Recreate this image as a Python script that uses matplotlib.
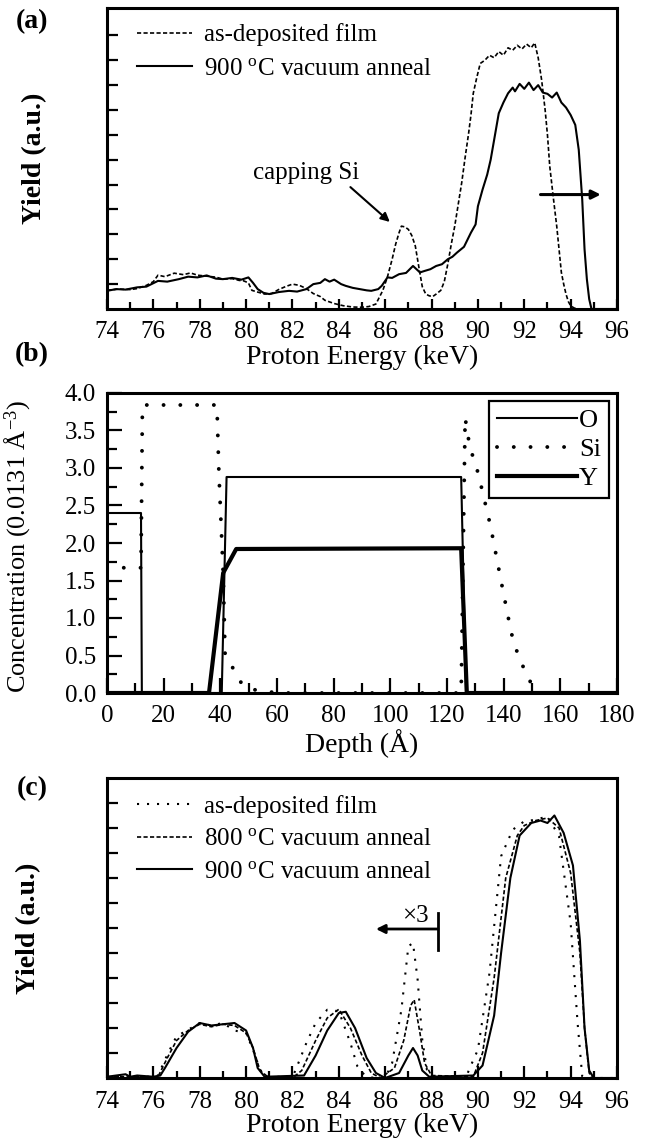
import matplotlib
matplotlib.use('Agg')
import matplotlib.pyplot as plt
from matplotlib.ticker import MultipleLocator, FormatStrFormatter

plt.rcParams['font.family'] = ['Liberation Serif', 'DejaVu Serif']
plt.rcParams['mathtext.fontset'] = 'custom'
plt.rcParams['mathtext.rm'] = 'Liberation Serif'
plt.rcParams['mathtext.it'] = 'Liberation Serif:italic'
plt.rcParams['mathtext.bf'] = 'Liberation Serif:bold'

# ---------------- panel (a) data ----------------
a_asdep_E = [74.0, 74.5, 75.0, 75.3, 75.7, 76.0, 76.2, 76.5, 76.9, 77.3, 77.6, 77.9, 78.3, 78.7, 79.0,
             79.4, 79.7, 79.9, 80.1, 80.25, 80.5, 80.8, 81.1, 81.4, 81.7, 82.0, 82.3, 82.6, 82.9, 83.2,
             83.4, 83.8, 84.2, 84.6, 85.0, 85.3, 85.6, 85.9, 86.1, 86.3, 86.45, 86.6, 86.7, 86.85, 87.0,
             87.15, 87.3, 87.45, 87.6, 87.75, 87.9, 88.05, 88.2, 88.4, 88.55, 88.7, 88.85, 89.0, 89.15,
             89.3, 89.45, 89.6, 89.7, 89.8, 89.95, 90.1, 90.3, 90.5, 90.7, 90.9, 91.1, 91.3, 91.5, 91.7,
             91.9, 92.1, 92.3, 92.45, 92.6, 92.75, 92.9, 93.0, 93.1, 93.25, 93.4, 93.5, 93.6, 93.7, 93.8,
             93.9, 94.0, 94.15, 94.3, 96.0]
a_asdep_Y = [0.75, 0.8, 0.78, 0.82, 0.95, 1.1, 1.36, 1.3, 1.44, 1.38, 1.45, 1.36, 1.32, 1.28, 1.2,
             1.22, 1.15, 1.13, 1.05, 0.75, 0.68, 0.6, 0.62, 0.78, 0.9, 1.0, 0.95, 0.82, 0.62, 0.5,
             0.35, 0.22, 0.13, 0.08, 0.07, 0.1, 0.2, 0.75, 1.3, 2.0, 2.6, 3.07, 3.33, 3.3, 3.2,
             2.95, 2.53, 1.7, 0.9, 0.6, 0.53, 0.5, 0.6, 0.75, 1.1, 1.8, 2.6, 3.33, 4.2,
             5.07, 6.1, 7.07, 7.8, 8.67, 9.3, 9.87, 10.0, 10.2, 10.1, 10.35, 10.2, 10.5, 10.4, 10.6,
             10.45, 10.65, 10.5, 10.7, 10.1, 9.2, 8.0, 7.0, 5.73, 4.5, 3.33, 2.4, 1.47, 1.0, 0.6,
             0.3, 0.13, 0.04, 0.0, 0.0]

a_900_E = [74.0, 74.4, 74.8, 75.3, 75.7, 76.2, 76.6, 77.1, 77.5, 77.9, 78.3, 78.7, 79.0, 79.4, 79.8,
           80.1, 80.3, 80.5, 80.75, 81.0, 81.4, 81.85, 82.2, 82.6, 82.9, 83.2, 83.4, 83.6, 83.8, 84.1,
           84.3, 84.6, 84.9, 85.2, 85.4, 85.7, 85.85, 86.1, 86.3, 86.6, 86.9, 87.2, 87.35, 87.5, 87.7,
           87.95, 88.2, 88.45, 88.7, 88.9, 89.1, 89.4, 89.7, 89.9, 90.0, 90.2, 90.4, 90.55, 90.7, 90.9,
           91.1, 91.3, 91.5, 91.6, 91.8, 92.0, 92.2, 92.4, 92.6, 92.8, 93.0, 93.2, 93.4, 93.6, 93.8,
           94.0, 94.2, 94.35, 94.5, 94.6, 94.7, 94.8, 94.9, 96.0]
a_900_Y = [0.73, 0.8, 0.78, 0.87, 0.9, 1.13, 1.1, 1.2, 1.3, 1.27, 1.35, 1.22, 1.2, 1.25, 1.18,
           1.27, 1.05, 0.8, 0.65, 0.6, 0.68, 0.73, 0.7, 0.8, 1.0, 1.05, 1.2, 1.1, 1.18, 1.0,
           0.93, 0.85, 0.8, 0.75, 0.73, 0.8, 0.93, 1.27, 1.25, 1.4, 1.45, 1.73, 1.6, 1.47, 1.53,
           1.6, 1.73, 1.8, 2.0, 2.1, 2.27, 2.5, 3.07, 3.4, 4.13, 4.8, 5.4, 6.0, 6.8, 7.87,
           8.3, 8.67, 8.9, 8.75, 9.05, 8.85, 9.1, 8.8, 9.0, 8.7, 8.65, 8.5, 8.7, 8.3, 8.1,
           7.8, 7.4, 6.4, 4.4, 2.4, 1.2, 0.4, 0.0, 0.0]

# ---------------- panel (b) data ----------------
b_O_depth = [0, 12, 12.3, 40.5, 42.2, 125, 126.7, 180]
b_O_conc = [2.4, 2.4, 0, 0, 2.88, 2.88, 0, 0]
b_Si_depth = [0, 12, 12.5, 38.8, 39.5, 41, 41.7, 44.2, 46.5, 49.7, 54, 58.4, 62, 125, 126.4,
              128, 131, 135.4, 139, 142.7, 145.6, 149.2, 150, 180]
b_Si_conc = [1.67, 1.67, 3.84, 3.84, 2.93, 1.6, 0.49, 0.35, 0.17, 0.06, 0.03, 0.01, 0, 0, 3.67,
             3.29, 2.93, 2.22, 1.51, 0.8, 0.44, 0.19, 0, 0]
b_Y_depth = [0, 36, 41, 45.6, 125, 127, 180]
b_Y_conc = [0, 0, 1.6, 1.92, 1.93, 0, 0]

# ---------------- panel (c) data ----------------
c_asdep_E = [74.0, 75.0, 76.0, 76.2, 76.6, 77.0, 77.5, 78.0, 78.5, 79.0, 79.5, 80.0, 80.3, 80.6, 80.9,
             82.0, 82.2, 82.6, 83.0, 83.5, 84.0, 84.5, 84.8, 85.1, 85.5, 86.0, 86.3, 86.7, 87.0, 87.2,
             87.4, 87.6, 87.8, 88.0, 89.5, 89.6, 90.0, 90.5, 91.0, 91.5, 92.0, 92.5, 93.0, 93.5, 94.0,
             94.3, 94.5, 95.0, 96.0]
c_asdep_Y = [0.05, 0.05, 0.05, 0.1, 0.93, 1.67, 1.93, 2.2, 2.1, 2.2, 1.9, 1.8, 1.13, 0.33, 0.07,
             0.02, 0.47, 1.4, 2.2, 2.73, 2.67, 1.4, 0.47, 0.13, 0.0, 0.0, 0.6, 2.73, 5.27, 5.4,
             3.93, 1.53, 0.33, 0.07, 0.0, 0.3, 1.13, 4.2, 8.87, 9.93, 10.27, 10.33, 10.47, 9.67, 6.2,
             2.2, 0.07, 0.0, 0.0]

c_800_E = [74.0, 75.0, 76.2, 76.6, 77.0, 77.5, 78.0, 78.5, 79.0, 79.5, 80.0, 80.3, 80.6, 81.0, 82.0,
           82.4, 83.0, 83.5, 84.0, 84.5, 85.0, 85.4, 85.8, 86.4, 86.8, 87.1, 87.25, 87.5, 87.7, 88.0,
           89.8, 90.2, 90.7, 91.2, 91.7, 92.0, 92.5, 93.0, 93.5, 94.0, 94.4, 94.6, 94.8, 95.0, 96.0]
c_800_Y = [0.05, 0.05, 0.05, 0.8, 1.5, 1.9, 2.15, 2.05, 2.15, 2.1, 1.8, 1.2, 0.3, 0.0, 0.0,
           0.3, 1.5, 2.4, 2.75, 2.0, 0.9, 0.2, 0.0, 0.4, 1.5, 2.9, 3.13, 1.8, 0.6, 0.1,
           0.05, 1.0, 4.0, 8.0, 9.7, 10.1, 10.3, 10.4, 10.0, 8.2, 5.0, 2.0, 0.2, 0.0, 0.0]

c_900_E = [74.0, 74.8, 75.0, 75.3, 76.0, 76.3, 76.5, 77.0, 77.5, 78.0, 78.5, 79.0, 79.5, 80.0, 80.3,
           80.5, 80.8, 82.5, 83.0, 83.5, 84.0, 84.3, 84.7, 85.2, 85.6, 86.0, 86.6, 87.0, 87.2, 87.4,
           87.6, 87.9, 89.8, 90.2, 90.7, 91.0, 91.4, 91.8, 92.3, 92.7, 93.0, 93.3, 93.7, 94.1, 94.4,
           94.6, 94.8, 95.0, 96.0]
c_900_Y = [0.05, 0.15, 0.05, 0.1, 0.05, 0.1, 0.4, 1.2, 1.85, 2.2, 2.1, 2.15, 2.2, 1.9, 1.2,
           0.4, 0.05, 0.1, 0.9, 1.9, 2.6, 2.65, 2.0, 0.8, 0.2, 0.0, 0.2, 0.9, 1.2, 0.9,
           0.3, 0.05, 0.1, 0.5, 2.5, 5.0, 8.0, 9.7, 10.2, 10.3, 10.2, 10.5, 9.8, 8.5, 5.5,
           2.0, 0.3, 0.0, 0.0]

LEG_A = ['as-deposited film', '900 $^{\\rm o}$C vacuum anneal']
LEG_B = ['O', 'Si', 'Y']
LEG_C = ['as-deposited film', '800 $^{\\rm o}$C vacuum anneal', '900 $^{\\rm o}$C vacuum anneal']

W, H = 646, 1146
fig = plt.figure(figsize=(W / 100, H / 100), dpi=100)


def ax_at(top, bottom):
    return fig.add_axes([107 / W, 1 - bottom / H, 510 / W, (bottom - top) / H])


def style(ax, majlen, minlen):
    for s in ax.spines.values():
        s.set_linewidth(2.2)
    ax.tick_params(which='both', direction='in', top=False, right=False, width=1.6,
                   labelsize=18, pad=9)
    ax.tick_params(which='major', length=majlen)
    ax.tick_params(which='minor', length=minlen)


dash = (0, (2.5, 1.4))
dots_small = (0, (1.0, 3.8))

# ---------------- (a) ----------------
axa = ax_at(8, 309)
axa.plot(a_asdep_E, a_asdep_Y, color='black', lw=1.2, linestyle=dash, label=LEG_A[0])
axa.plot(a_900_E, a_900_Y, color='black', lw=1.5, label=LEG_A[1])
axa.set_xlim(74, 96)
axa.set_ylim(0, 12.1)
axa.xaxis.set_major_locator(MultipleLocator(2))
axa.xaxis.set_minor_locator(MultipleLocator(1))
axa.set_yticks(range(1, 12))
axa.tick_params(axis='y', labelleft=False)
style(axa, 7, 5)
axa.tick_params(axis='y', which='major', length=8)
axa.set_xlabel('Proton Energy (keV)', fontsize=20, labelpad=1)
axa.set_ylabel('Yield (a.u.)', fontsize=20, fontweight='bold')
axa.yaxis.set_label_coords(-0.118, 0.5)
axa.legend(loc='upper left', bbox_to_anchor=(0.035, 0.99), frameon=False, fontsize=18,
           handlelength=2.2, handletextpad=0.45, borderpad=0, labelspacing=0.45)
axa.text(82.6, 5.45, 'capping Si', fontsize=18, ha='center', va='center')
axa.annotate('', xy=(86.2, 3.5), xytext=(84.5, 4.9),
             arrowprops=dict(arrowstyle='-|>', lw=1.5, color='black', mutation_scale=13,
                             shrinkA=0, shrinkB=0))
axa.annotate('', xy=(95.3, 4.6), xytext=(92.7, 4.6),
             arrowprops=dict(arrowstyle='-|>', lw=2.2, color='black', mutation_scale=13,
                             shrinkA=0, shrinkB=0))

# ---------------- (b) ----------------
axb = ax_at(393, 693)
axb.plot(b_O_depth, b_O_conc, color='black', lw=1.5, label=LEG_B[0])
axb.plot(b_Si_depth, b_Si_conc, color='black', lw=2.8, linestyle=(0, (0.01, 4.3)),
         dash_capstyle='round', label=LEG_B[1])
axb.plot(b_Y_depth, b_Y_conc, color='black', lw=3.0, label=LEG_B[2])
axb.set_xlim(0, 180)
axb.set_ylim(0, 4.0)
axb.xaxis.set_major_locator(MultipleLocator(20))
axb.xaxis.set_minor_locator(MultipleLocator(10))
axb.yaxis.set_major_locator(MultipleLocator(0.5))
axb.yaxis.set_minor_locator(MultipleLocator(0.25))
axb.yaxis.set_major_formatter(FormatStrFormatter('%.1f'))
style(axb, 11, 7)
axb.tick_params(axis='y', pad=8)
axb.set_xlabel('Depth (\u00c5)', fontsize=20, labelpad=1)
axb.set_ylabel('Concentration (0.0131 \u00c5$^{-3}$)', fontsize=19)
axb.yaxis.set_label_coords(-0.145, 0.49)
legb = axb.legend(loc='upper right', fontsize=19, frameon=True, fancybox=False,
                  edgecolor='black', framealpha=1, handlelength=3.0, handletextpad=0.1,
                  borderpad=0.3, labelspacing=0.2, borderaxespad=0.3)
legb.get_frame().set_linewidth(1.6)

# ---------------- (c) ----------------
axc = ax_at(778, 1078)
axc.plot(c_asdep_E, c_asdep_Y, color='black', lw=1.5, linestyle=dots_small, label=LEG_C[0])
axc.plot(c_800_E, c_800_Y, color='black', lw=1.2, linestyle=dash, label=LEG_C[1])
axc.plot(c_900_E, c_900_Y, color='black', lw=1.5, label=LEG_C[2])
axc.set_xlim(74, 96)
axc.set_ylim(0, 12.0)
axc.xaxis.set_major_locator(MultipleLocator(2))
axc.xaxis.set_minor_locator(MultipleLocator(1))
axc.set_yticks(range(1, 12))
axc.tick_params(axis='y', labelleft=False)
style(axc, 9, 5)
axc.tick_params(axis='y', which='major', length=8)
axc.set_xlabel('Proton Energy (keV)', fontsize=20, labelpad=0)
axc.set_ylabel('Yield (a.u.)', fontsize=20, fontweight='bold')
axc.yaxis.set_label_coords(-0.129, 0.5)
axc.legend(loc='upper left', bbox_to_anchor=(0.035, 0.985), frameon=False, fontsize=18,
           handlelength=2.2, handletextpad=0.45, borderpad=0, labelspacing=0.4)
axc.plot([88.28, 88.28], [5.13, 6.6], color='black', lw=2.0)
axc.annotate('', xy=(85.6, 5.96), xytext=(88.28, 5.96),
             arrowprops=dict(arrowstyle='-|>', lw=2.0, color='black', mutation_scale=13,
                             shrinkA=0, shrinkB=0))
axc.text(87.3, 6.5, '\u00d73', fontsize=18, ha='center', va='center')

fig.text(32 / W, 1 - 22 / H, '(a)', fontsize=20, fontweight='bold', ha='center', va='center')
fig.text(32 / W, 1 - 355 / H, '(b)', fontsize=20, fontweight='bold', ha='center', va='center')
fig.text(32 / W, 1 - 789 / H, '(c)', fontsize=20, fontweight='bold', ha='center', va='center')

fig.savefig('out.png', dpi=100)
